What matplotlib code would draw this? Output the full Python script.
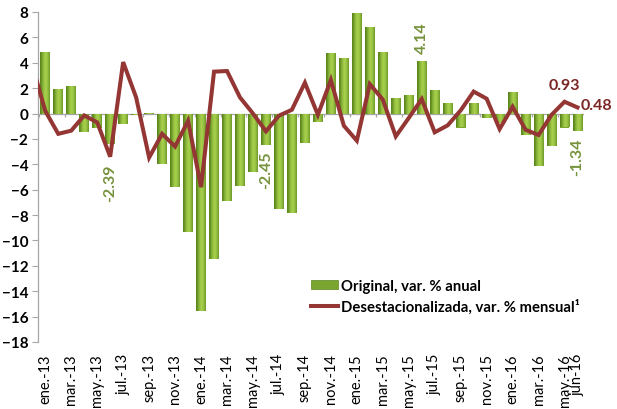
import matplotlib
matplotlib.use("Agg")
import matplotlib.pyplot as plt
import numpy as np
from matplotlib.patches import Patch
from matplotlib.lines import Line2D
from matplotlib.colors import to_rgb

plt.rcParams['font.family'] = ['Lato', 'DejaVu Sans']

# tick labels (one every two months, plus the last one)
tick_labels = ["ene.-13", "mar.-13", "may.-13", "jul.-13", "sep.-13", "nov.-13",
               "ene.-14", "mar.-14", "may.-14", "jul.-14", "sep.-14", "nov.-14",
               "ene.-15", "mar.-15", "may.-15", "jul.-15", "sep.-15", "nov.-15",
               "ene.-16", "mar.-16", "may.-16", "jun-16"]
tick_idx = list(range(0, 41, 2)) + [41]

# Original, var. % anual (ene-13 .. jun-16)
original = [4.85, 1.93, 2.14, -1.48, -1.17, -2.39, -0.85, -0.10, 0.05, -3.98,
            -5.82, -9.36, -15.54, -11.47, -6.87, -5.69, -4.63, -2.45, -7.53, -7.84,
            -2.36, -0.64, 4.77, 4.35, 7.92, 6.84, 4.87, 1.20, 1.46, 4.14,
            1.88, 0.85, -1.10, 0.80, -0.33, -0.77, 1.67, -1.69, -4.11, -2.59,
            -1.10, -1.34]

# Desestacionalizada, var. % mensual (dic-12 .. jun-16, dic-12 is cut by the axis)
desest = [3.80, 0.20, -1.60, -1.35, -0.15, -0.70, -3.40, 4.05, 1.27, -3.47,
          -1.60, -2.60, -0.57, -5.80, 3.30, 3.35, 1.27, 0.00, -1.40, -0.17,
          0.30, 2.43, -0.10, 2.64, -0.96, -2.14, 2.32, 1.10, -1.80, -0.35,
          1.14, -1.48, -0.93, 0.25, 1.73, 1.17, -1.22, 0.53, -1.28, -1.69,
          -0.10, 0.93, 0.48]

green_lbl_idx = [5, 17, 29, 41]

GREEN = "#7AA52E"
GREEN_TXT = "#76923C"
RED = "#943634"
RED_TXT = "#7A2624"
GRAY = "#A6A6A6"

fig = plt.figure(figsize=(6.17, 4.10), dpi=100)
ax = fig.add_axes([38 / 617, 1 - 343 / 410, 546 / 617, 330 / 410])

x = np.arange(len(original))
bars = ax.bar(x, original, width=0.75, color=GREEN, zorder=2)

# cylinder-like shading inside each bar
edge = np.array(to_rgb("#5A861C"))
mid = np.array(to_rgb("#A6CF4C"))
t = np.linspace(-1, 1, 64)
w = np.clip(1 - np.abs(t - 0.15) ** 1.6, 0, 1)[:, None]
grad = (edge + (mid - edge) * w)[None, :, :]
for b in bars:
    x0, y0 = b.get_x(), b.get_y()
    im = ax.imshow(grad, extent=[x0, x0 + b.get_width(), y0, y0 + b.get_height()],
                   aspect='auto', zorder=2, interpolation='bilinear')
    im.set_clip_path(b)

xl = np.arange(-1, len(original))
ax.plot(xl, desest, color=RED, lw=2.9, zorder=4, solid_joinstyle='miter')

ax.set_xlim(-0.56, 41.5)
ax.set_ylim(-18, 8)

# axes styling
for s in ['top', 'right', 'bottom']:
    ax.spines[s].set_visible(False)
ax.spines['left'].set_color(GRAY)
ax.spines['left'].set_linewidth(0.9)
ax.axhline(0, color=GRAY, lw=0.9, zorder=1)
ax.vlines(np.arange(-0.5, 42, 2), -0.3, 0, color=GRAY, lw=0.9, zorder=1)

ax.set_yticks(np.arange(-18, 9, 2))
ax.tick_params(axis='y', length=4, color=GRAY, labelsize=11, pad=3)
for lb in ax.get_yticklabels():
    lb.set_fontweight('bold')

ax.set_xticks(tick_idx)
ax.set_xticklabels(tick_labels, rotation=90, fontsize=10.5, va='top', ha='center')
ax.tick_params(axis='x', length=0, pad=8)

# data labels
green_off = {5: -14, 17: -4, 29: 6, 41: -5}
for i in green_lbl_idx:
    v = original[i]
    ax.annotate(f"{v:.2f}", (x[i], v), xytext=(0, green_off[i]), textcoords='offset points',
                rotation=90, ha='center', va='top' if v < 0 else 'bottom',
                color=GREEN_TXT, fontsize=11.5, fontweight='bold', zorder=5)

ax.annotate(f"{desest[41]:.2f}", (x[40], desest[41]), xytext=(0, 7), textcoords='offset points',
            ha='center', va='bottom', color=RED_TXT, fontsize=11.5, fontweight='bold')
ax.annotate(f"{desest[42]:.2f}", (x[41], desest[42]), xytext=(2, 2), textcoords='offset points',
            ha='left', va='center', color=RED_TXT, fontsize=11.5, fontweight='bold')

handles = [Patch(facecolor=GREEN, edgecolor="#5A861C", lw=0.5),
           Line2D([0], [0], color=RED, lw=2.9)]
leg = ax.legend(handles, ["Original, var. % anual", "Desestacionalizada, var. % mensual¹"],
                loc='upper left', bbox_to_anchor=(311 / 617, 1 - 280 / 410),
                bbox_transform=fig.transFigure, frameon=False,
                prop={'weight': 'bold', 'size': 10.7},
                handlelength=1.85, handleheight=0.55, handletextpad=0.15,
                labelspacing=0.35, borderpad=0, borderaxespad=0)

fig.savefig("out.png", dpi=100)
